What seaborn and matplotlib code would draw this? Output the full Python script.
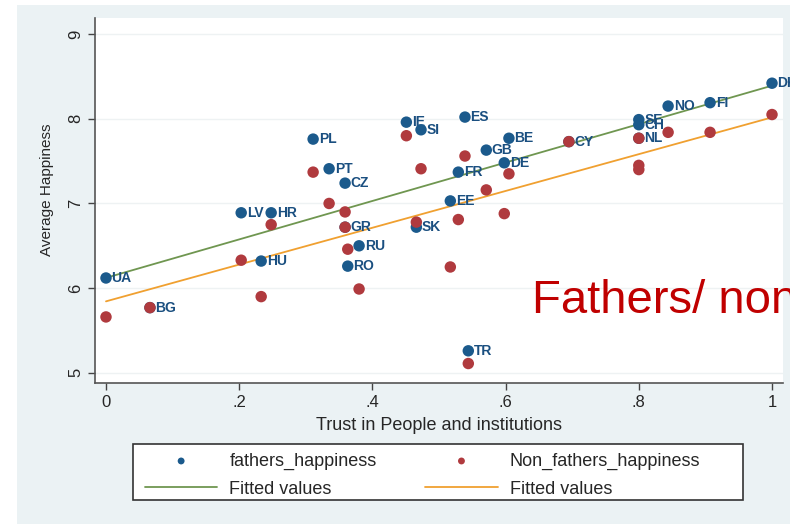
import matplotlib.pyplot as plt
import matplotlib.patches as mpatches
import seaborn as sns
import pandas as pd

# dados
countries = ["UA", "BG", "LV", "HU", "HR", "PL", "PT", "CZ", "GR", "RO", "RU", "IE", "SI", "SK",
             "EE", "FR", "ES", "TR", "GB", "DE", "BE", "CY", "SE", "CH", "NL", "NO", "FI", "DK"]
trust = [0.0, 0.066, 0.203, 0.233, 0.248, 0.311, 0.335, 0.359, 0.359, 0.363, 0.380, 0.451, 0.473, 0.466,
         0.517, 0.529, 0.539, 0.544, 0.571, 0.598, 0.605, 0.695, 0.80, 0.80, 0.80, 0.844, 0.907, 1.0]
fathers_happiness = [6.12, 5.77, 6.89, 6.32, 6.89, 7.76, 7.41, 7.24, 6.72, 6.26, 6.50, 7.96, 7.87, 6.72,
                     7.03, 7.37, 8.02, 5.26, 7.63, 7.48, 7.77, 7.73, 7.99, 7.93, 7.77, 8.15, 8.19, 8.42]
non_fathers_happiness = [5.66, 5.77, 6.33, 5.90, 6.75, 7.37, 7.00, 6.90, 6.72, 6.46, 5.99, 7.80, 7.41, 6.78,
                         6.25, 6.81, 7.56, 5.11, 7.16, 6.88, 7.35, 7.73, 7.45, 7.40, 7.77, 7.84, 7.84, 8.05]

x_ticks = [0, 0.2, 0.4, 0.6, 0.8, 1.0]
x_tick_labels = ["0", ".2", ".4", ".6", ".8", "1"]
y_ticks = [5, 6, 7, 8, 9]

data = pd.DataFrame({"country": countries, "trust": trust,
                     "fathers": fathers_happiness, "non_fathers": non_fathers_happiness})

blue = "#1b5a8c"
red = "#b03a3e"
green = "#6f9650"
orange = "#f0a030"

sns.set_style("white")
plt.rcParams["font.family"] = ["Liberation Sans", "DejaVu Sans"]

fig = plt.figure(figsize=(7.9, 5.24), dpi=100)
fig.patch.set_facecolor("white")
fig.patches.append(mpatches.Rectangle((17 / 790, 0), 1, 1 - 5 / 524, transform=fig.transFigure,
                                      facecolor="#ebf2f4", edgecolor="none", zorder=-1))

ax = fig.add_axes([95 / 790, 1 - 383 / 524, (783 - 95) / 790, (383 - 18) / 524])
ax.set_facecolor("white")

sns.scatterplot(data=data, x="trust", y="fathers", color=blue, s=68, edgecolor="none",
                label="fathers_happiness", ax=ax, zorder=3)
sns.regplot(data=data, x="trust", y="fathers", scatter=False, ci=None, color=green,
            line_kws={"lw": 1.3}, label="Fitted values", ax=ax)
sns.scatterplot(data=data, x="trust", y="non_fathers", color=red, s=68, edgecolor="none",
                label="Non_fathers_happiness", ax=ax, zorder=4)
sns.regplot(data=data, x="trust", y="non_fathers", scatter=False, ci=None, color=orange,
            line_kws={"lw": 1.3}, label="Fitted values", ax=ax)

# rotulos dos paises (so para os pais)
for c, xv, yv in zip(data["country"], data["trust"], data["fathers"]):
    ax.annotate(c, (xv, yv), xytext=(4, 0), textcoords="offset points", va="center",
                fontsize=10, fontweight="bold", color="#1a4f80", zorder=2)

ax.set_xlim(-0.0165, 1.0165)
ax.set_ylim(4.88, 9.19)
ax.set_xticks(x_ticks)
ax.set_xticklabels(x_tick_labels)
ax.set_yticks(y_ticks)
ax.set_yticklabels([str(v) for v in y_ticks], rotation=90, va="center")
ax.tick_params(axis="both", length=5, width=1, color="#444444", labelsize=12, direction="out",
               bottom=True, left=True)
ax.yaxis.grid(True, color="#eef2f3", lw=1)
for s in ["top", "right"]:
    ax.spines[s].set_visible(False)
for s in ["left", "bottom"]:
    ax.spines[s].set_color("#555555")
    ax.spines[s].set_linewidth(1.2)
ax.set_xlabel("Trust in People and institutions", fontsize=13)
ax.set_ylabel("Average Happiness", fontsize=11)
ax.xaxis.set_label_coords(0.5, -0.093)
ax.yaxis.set_label_coords(-0.06, 0.53)

# legenda com caixa desenhada a parte (estilo Stata)
handles, labels = ax.get_legend_handles_labels()
ax.legend(handles, labels, ncol=2, loc="upper left", bbox_to_anchor=(0.0727, -0.191),
          frameon=False, fontsize=13, markerscale=0.6,
          handlelength=4, handletextpad=0.67, columnspacing=2.7, borderpad=0,
          labelspacing=0.6, borderaxespad=0)
ax.add_patch(mpatches.Rectangle((0.0552, -0.3205), 0.8866, 0.1534, transform=ax.transAxes,
                                facecolor="white", edgecolor="#333333", lw=1.2,
                                clip_on=False, zorder=-1))

fig.text(532 / 790, 1 - 301 / 524, "Fathers/ non", fontsize=34, color="#c00000", va="center")

plt.savefig("out.png", dpi=100)
